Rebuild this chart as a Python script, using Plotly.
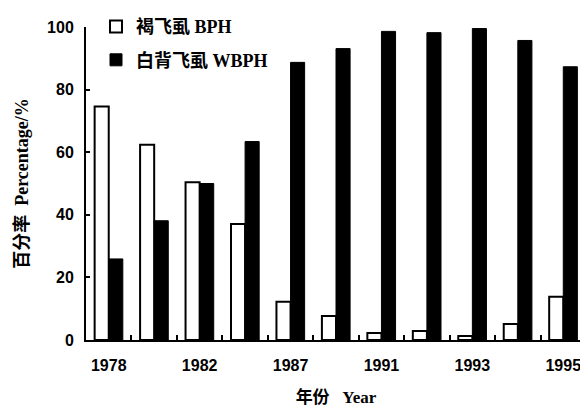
import plotly.graph_objects as go

years = ["1978", "1980", "1982", "1985", "1987", "1989", "1991", "1992", "1993", "1994", "1995"]
tick_labels = ["1978", "", "1982", "", "1987", "", "1991", "", "1993", "", "1995"]
bph = [74.6, 62.4, 50.4, 37.1, 12.2, 7.7, 2.2, 2.9, 1.3, 5.1, 13.8]
wbph = [25.9, 38.1, 50.0, 63.4, 88.7, 93.1, 98.6, 98.2, 99.5, 95.7, 87.3]
y_ticks = [0, 20, 40, 60, 80, 100]

serif = "Liberation Serif, Noto Sans CJK SC, serif"
sans = "Liberation Sans, Arial, sans-serif"

fig = go.Figure()
fig.add_trace(go.Bar(x=years, y=bph, name="<b>褐飞虱 BPH</b>", legendgroup="a",
                     marker=dict(color="white", line=dict(color="black", width=2))))
fig.add_trace(go.Bar(x=years, y=wbph, name="<b>白背飞虱 WBPH</b>", legendgroup="b",
                     marker=dict(color="black", line=dict(color="black", width=1))))

# the page body has an 8px default margin, so the figure is sized to fit the window
fig.update_layout(
    template="none",
    width=580, height=399,
    margin=dict(l=78, r=2, t=19, b=67, autoexpand=False),
    paper_bgcolor="white", plot_bgcolor="white",
    barmode="group", bargap=0.38, bargroupgap=0,
    legend=dict(x=0.02, y=1.06, xanchor="left", yanchor="top",
                font=dict(family=serif, size=18, color="black"),
                itemwidth=30,
                tracegroupgap=7, bgcolor="rgba(0,0,0,0)"),
    xaxis=dict(type="category", tickmode="array", tickvals=years, ticktext=tick_labels,
               tickson="boundaries", ticks="inside", ticklen=5, tickcolor="black",
               tickwidth=1.5, automargin=False,
               showline=True, linecolor="black", linewidth=2, showgrid=False,
               tickfont=dict(family=sans, size=16, color="black", weight="bold"),
               ticklabelstandoff=10,
               range=[-0.5, 10.5],
               title=dict(text="<b>年份   Year</b>", font=dict(family=serif, size=17, color="black"),
                          standoff=20)),
    yaxis=dict(range=[0, 100], tickvals=y_ticks, ticks="inside", ticklen=4,
               tickcolor="black", tickwidth=1.5, automargin=False,
               showline=True, linecolor="black", linewidth=2, showgrid=False, zeroline=False,
               tickfont=dict(family=sans, size=16, color="black", weight="bold"),
               ticklabelstandoff=7,
               title=dict(text="<b>百分率  Percentage/%</b>", font=dict(family=serif, size=18, color="black"),
                          standoff=14)),
    showlegend=True,
)

fig.write_html("out.html")
